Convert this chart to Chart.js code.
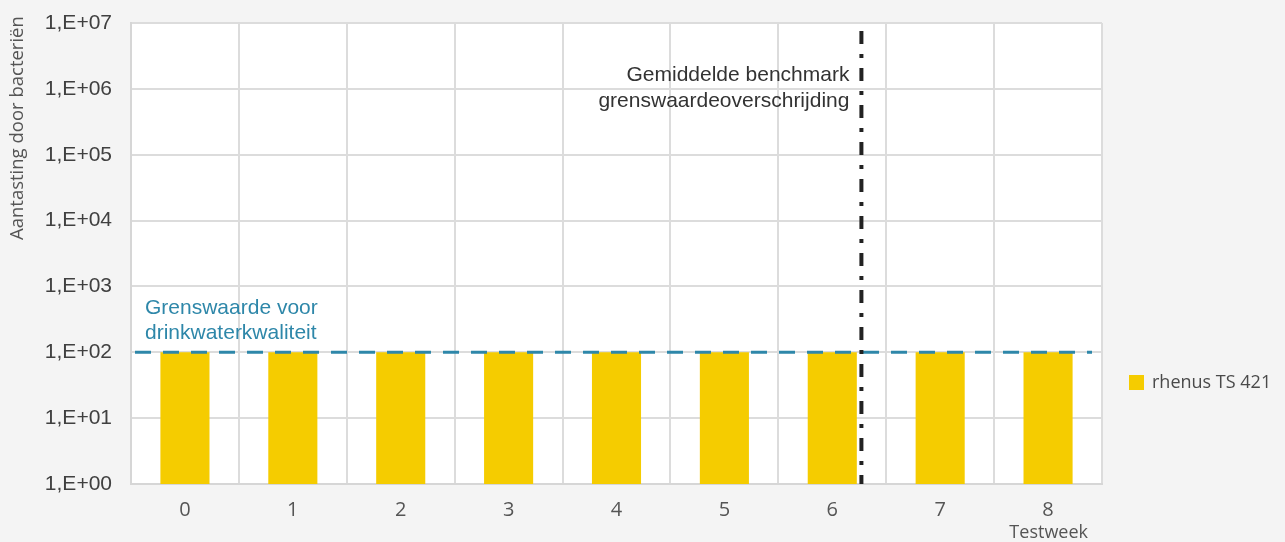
<!DOCTYPE html>
<html>
<head>
<meta charset="utf-8">
<script src="https://cdn.jsdelivr.net/npm/chart.js@4/dist/chart.umd.min.js"></script>
<style>
  html, body { margin: 0; padding: 0; background: #f4f4f4; }
  #wrap { width: 1285px; height: 542px; }
</style>
</head>
<body>
<div id="wrap"><canvas id="chart"></canvas></div>
<script>
// data
var weeks = ['0', '1', '2', '3', '4', '5', '6', '7', '8'];
var bacteriaLoad = [100, 100, 100, 100, 100, 100, 100, 100, 100];
var yTickValues = [1, 10, 100, 1e3, 1e4, 1e5, 1e6, 1e7];
var yTickLabels = ['1,E+00', '1,E+01', '1,E+02', '1,E+03', '1,E+04', '1,E+05', '1,E+06', '1,E+07'];
var drinkingWaterLimit = 100;
var benchmarkWeek = 6.27;
var seriesName = 'rhenus TS 421';
var limitLabel = ['Grenswaarde voor', 'drinkwaterkwaliteit'];
var benchmarkLabel = ['Gemiddelde benchmark', 'grenswaardeoverschrijding'];
var yTitle = 'Aantasting door bacteriën';
var xTitle = 'Testweek';

var BAR = '#f5cc00';
var BLUE = '#2e87a9';
var GRID = '#dcdcdc';
var SANS = '"Open Sans", "Noto Sans", sans-serif';
var ARIAL = '"Liberation Sans", Arial, sans-serif';

var backdrop = {
  id: 'backdrop',
  beforeDraw: function(chart) {
    var ctx = chart.ctx, a = chart.chartArea;
    ctx.save();
    ctx.fillStyle = '#f4f4f4';
    ctx.fillRect(0, 0, chart.width, chart.height);
    ctx.fillStyle = '#ffffff';
    ctx.fillRect(a.left, a.top, a.right - a.left, a.bottom - a.top);
    ctx.restore();
  }
};

var marks = {
  id: 'marks',
  afterDatasetsDraw: function(chart) {
    var ctx = chart.ctx, a = chart.chartArea;
    var x = chart.scales.x, y = chart.scales.y;
    ctx.save();

    // drinking water limit
    var yLimit = y.getPixelForValue(drinkingWaterLimit);
    ctx.strokeStyle = BLUE;
    ctx.lineWidth = 3;
    ctx.setLineDash([16, 12]);
    ctx.beginPath();
    ctx.moveTo(a.left + 4, yLimit);
    ctx.lineTo(a.right - 10, yLimit);
    ctx.stroke();

    ctx.fillStyle = BLUE;
    ctx.font = '21px ' + ARIAL;
    ctx.textAlign = 'left';
    ctx.textBaseline = 'alphabetic';
    ctx.fillText(limitLabel[0], a.left + 14, yLimit - 38);
    ctx.fillText(limitLabel[1], a.left + 14, yLimit - 13);

    // benchmark line
    var w = Math.floor(benchmarkWeek);
    var x0 = x.getPixelForValue(w), x1 = x.getPixelForValue(w + 1);
    var xb = x0 + (benchmarkWeek - w) * (x1 - x0);
    ctx.strokeStyle = '#222222';
    ctx.lineWidth = 4;
    ctx.setLineDash([13, 10, 4, 10]);
    ctx.beginPath();
    ctx.moveTo(xb, a.top + 8);
    ctx.lineTo(xb, a.bottom);
    ctx.stroke();
    ctx.setLineDash([]);

    ctx.fillStyle = '#333333';
    ctx.textAlign = 'right';
    ctx.fillText(benchmarkLabel[0], xb - 12, a.top + 58);
    ctx.fillText(benchmarkLabel[1], xb - 12, a.top + 84);

    // legend
    var ds = chart.data.datasets[0];
    ctx.fillStyle = ds.backgroundColor;
    ctx.fillRect(a.right + 27, 375, 15, 15);
    ctx.fillStyle = '#4a4a4a';
    ctx.font = '18px ' + SANS;
    ctx.textAlign = 'left';
    ctx.textBaseline = 'middle';
    ctx.fillText(ds.label, a.right + 50, 383);

    // axis titles
    ctx.fillStyle = '#555555';
    ctx.font = '18px ' + SANS;
    ctx.textAlign = 'right';
    ctx.fillText(xTitle, a.right - 14, 533);

    ctx.translate(18, 240);
    ctx.rotate(-Math.PI / 2);
    ctx.textAlign = 'left';
    ctx.font = '18.5px ' + SANS;
    ctx.fillText(yTitle, 0, 0);
    ctx.restore();
  }
};

new Chart(document.getElementById('chart'), {
  type: 'bar',
  data: {
    labels: weeks,
    datasets: [{
      label: seriesName,
      data: bacteriaLoad,
      backgroundColor: BAR,
      borderWidth: 0,
      categoryPercentage: 1,
      barPercentage: 0.455
    }]
  },
  options: {
    responsive: true,
    maintainAspectRatio: false,
    animation: false,
    devicePixelRatio: 1,
    layout: { padding: { top: 23, right: 183, bottom: 0, left: 0 } },
    plugins: {
      legend: { display: false },
      tooltip: { enabled: false }
    },
    scales: {
      x: {
        grid: { color: GRID, lineWidth: 2, drawTicks: false, offset: true },
        border: { color: '#d6d6d6', width: 2 },
        ticks: { color: '#555555', font: { family: SANS, size: 20 }, padding: 14 },
        afterFit: function(s) { s.height = 58; }
      },
      y: {
        type: 'logarithmic',
        min: 1,
        max: 1e7,
        afterBuildTicks: function(s) {
          s.ticks = yTickValues.map(function(v) { return { value: v }; });
        },
        grid: { color: GRID, lineWidth: 2, drawTicks: false },
        border: { color: '#d6d6d6', width: 2 },
        ticks: {
          autoSkip: false,
          color: '#404040',
          font: { family: ARIAL, size: 21 },
          padding: 19,
          callback: function(v, i) { return yTickLabels[i]; }
        },
        afterFit: function(s) {
          s.width = 131;
          s.paddingTop = 0;
          s.paddingBottom = 0;
        }
      }
    }
  },
  plugins: [backdrop, marks]
});
</script>
</body>
</html>
